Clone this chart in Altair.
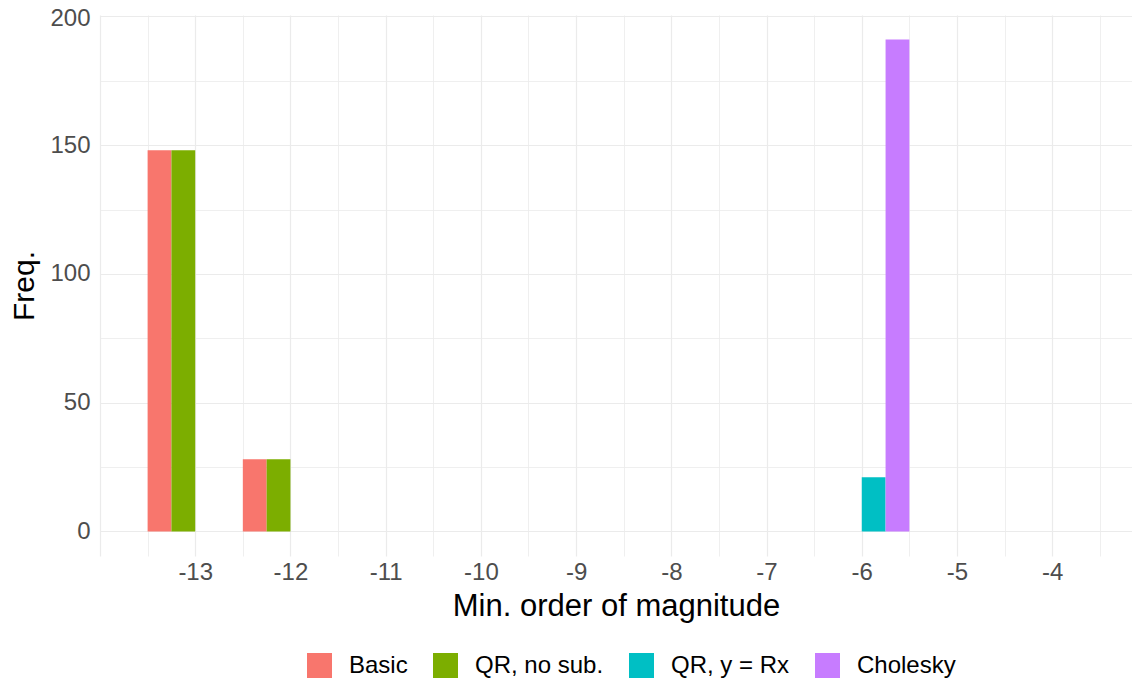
import altair as alt
import pandas as pd

# ---- data ----
bins = [-13, -12, -6]
methods = ["Basic", "QR, no sub.", "QR, y = Rx", "Cholesky"]
freq_basic = [148, 28, 0]
freq_qr_nosub = [148, 28, 0]
freq_qr_rx = [0, 0, 21]
freq_cholesky = [0, 0, 191]
colors = ["#F8766D", "#7CAE00", "#00BFC4", "#C77CFF"]

x_tick_values = [-14 + 0.5 * i for i in range(22)]   # -14 ... -3.5
y_tick_values = [0, 25, 50, 75, 100, 125, 150, 175, 200]

series = [freq_basic, freq_qr_nosub, freq_qr_rx, freq_cholesky]
rows = []
for m, vals in zip(methods, series):
    for b, v in zip(bins, vals):
        rows.append({"method": m, "order": b, "freq": v})
df = pd.DataFrame(rows)

method_list = "[" + ",".join("'" + m + "'" for m in methods) + "]"

font = "Liberation Sans"

chart = (
    alt.Chart(df)
    .transform_filter("datum.freq > 0")
    .transform_calculate(
        idx=f"indexof({method_list}, datum.method)",
    )
    .transform_calculate(
        x0="datum.order - 0.5 + 0.25 * datum.idx",
    )
    .transform_calculate(
        x1="datum.x0 + 0.25",
    )
    .mark_bar(strokeWidth=0)
    .encode(
        x=alt.X(
            "x0:Q",
            scale=alt.Scale(domain=[-14, -3.162], nice=False, zero=False),
            axis=alt.Axis(
                title="Min. order of magnitude",
                values=x_tick_values,
                labelExpr="(datum.value % 1 === 0 && datum.value > -14) ? '-' + abs(datum.value) : ''",
                ticks=False,
                domain=False,
                grid=True,
                gridColor="#EBEBEB",
                gridWidth={"condition": {"test": "datum.value % 1 === 0", "value": 1.2}, "value": 0.8},
                labelFontSize=24,
                labelColor="#4D4D4D",
                labelPadding=4,
                labelFlush=False,
                labelOverlap=False,
                titleFontSize=31,
                titleFontWeight="normal",
                titleColor="#000000",
                titlePadding=7,
            ),
        ),
        x2="x1:Q",
        y=alt.Y(
            "freq:Q",
            scale=alt.Scale(domain=[-9.55, 200.55], nice=False, zero=False),
            axis=alt.Axis(
                title="Freq.",
                values=y_tick_values,
                labelExpr="datum.value % 50 === 0 ? datum.label : ''",
                ticks=False,
                domain=False,
                grid=True,
                gridColor="#EBEBEB",
                gridWidth={"condition": {"test": "datum.value % 50 === 0", "value": 1.2}, "value": 0.8},
                labelFontSize=24,
                labelColor="#4D4D4D",
                labelPadding=10,
                labelOffset={"condition": {"test": "datum.value === 200", "value": 2}, "value": 0},
                labelOverlap=False,
                labelFlush=False,
                titleFontSize=30,
                titleFontWeight="normal",
                titleColor="#000000",
                titlePadding=10,
            ),
        ),
        y2=alt.datum(0),
        color=alt.Color(
            "method:N",
            scale=alt.Scale(domain=methods, range=colors),
            legend=alt.Legend(
                title=None,
                orient="none",
                legendX=207,
                legendY=638,
                direction="horizontal",
                columns=4,
                symbolType="square",
                symbolSize=625,
                symbolStrokeWidth=0,
                symbolOpacity=1,
                labelFontSize=24,
                labelColor="#000000",
                labelOffset=17,
                columnPadding=25,
            ),
        ),
    )
    .properties(
        width=1032,
        height=541,
        autosize=alt.AutoSizeParams(type="none"),
        padding={"left": 92, "top": 7, "right": 0, "bottom": 124},
    )
    .configure(font=font)
    .configure_view(stroke=None)
)

chart.save("out.html", embed_options={"renderer": "svg", "actions": False})
